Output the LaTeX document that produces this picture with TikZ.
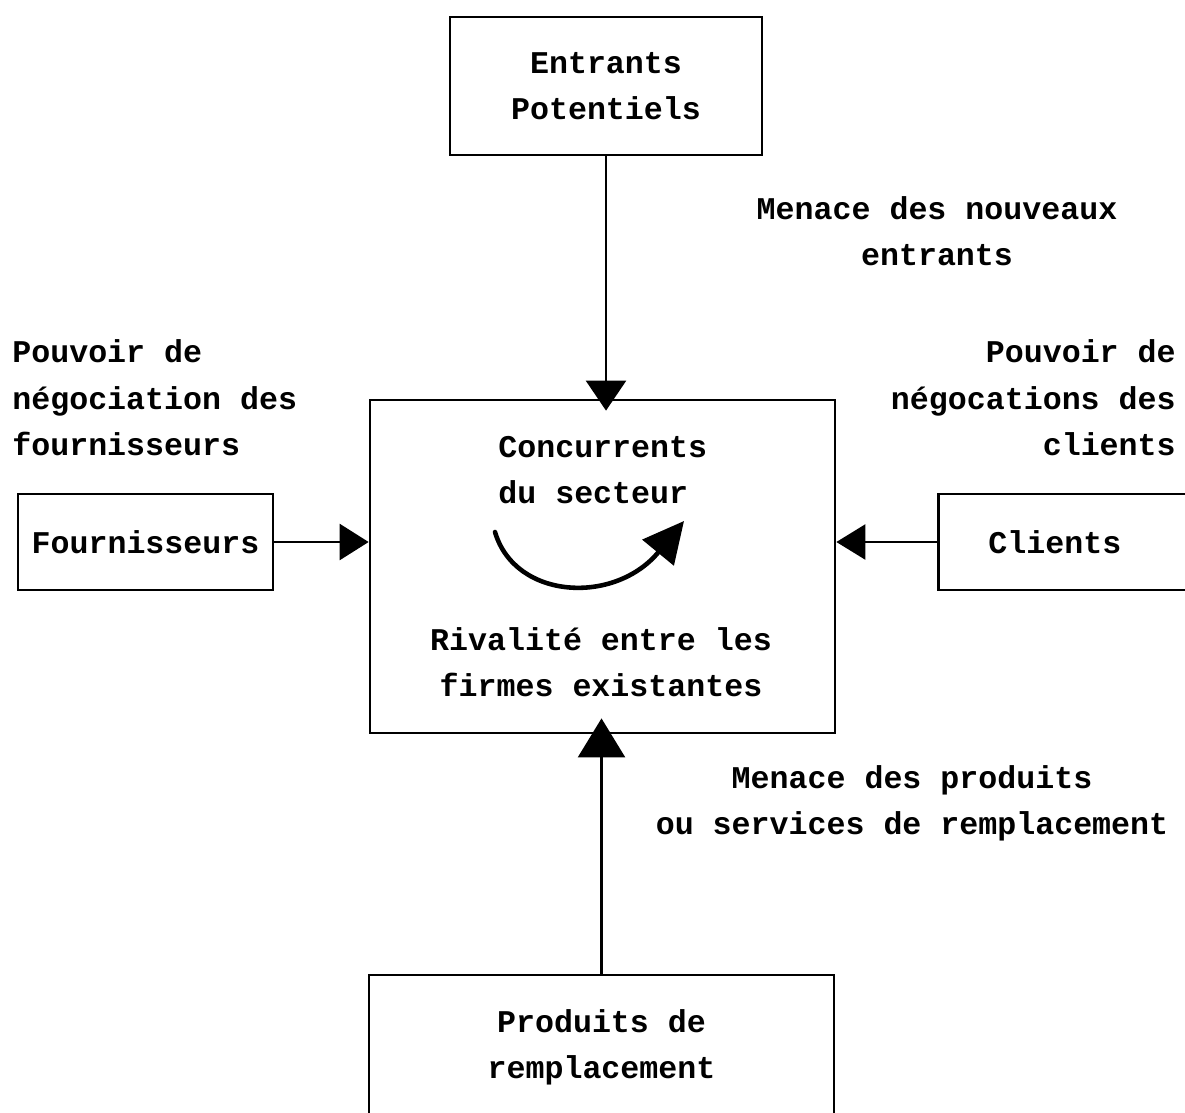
\documentclass[tikz,border=0pt]{standalone}
\usepackage{fontspec}
\setmonofont{Liberation Mono}
\usetikzlibrary{arrows.meta}

\tikzset{
  testo/.style={font=\ttfamily\bfseries\fontsize{18}{26.4}\selectfont, inner sep=0pt},
  scatola/.style={draw, line width=1.6pt, inner sep=0pt, testo},
  freccia/.style={line width=1.4pt},
}

\begin{document}
\begin{tikzpicture}[x=0.02cm, y=-0.02cm]
        % Cornice (in pixel)
        \useasboundingbox (0,0) rectangle (1185,1112);
        \clip (0,0) rectangle (1185,1112);

        % Scatole
        \node[scatola, align=center, minimum width=6.24cm, minimum height=2.76cm] (ent) at (606,86) {Entrants\\Potentiels};
        \node[scatola, minimum width=9.3cm, minimum height=6.66cm] (conc) at (602.5,566.5) {};
        \node[scatola, minimum width=5.1cm, minimum height=1.92cm] (forn) at (145.5,542) {Fournisseurs};
        \node[scatola, anchor=west, inner xsep=1cm, text width=3.3cm, align=left, minimum height=1.92cm] (cli) at (937,542) {Clients};
        \node[scatola, align=center, minimum width=9.3cm, minimum height=2.88cm] (prod) at (601.5,1047) {Produits de\\remplacement};

        % Testi nella scatola centrale
        \node[testo, anchor=west, align=left] (concT) at (498,470) {Concurrents\\du secteur};
        \node[testo, align=center] (rival) at (601,662) {Rivalité entre les\\firmes existantes};

        % Forze
        \node[testo, align=center] (nuovi) at (937,231) {Menace des nouveaux\\entrants};
        \node[testo, anchor=west, align=left] (pforn) at (12,398) {Pouvoir de\\négociation des\\fournisseurs};
        \node[testo, anchor=east, align=right] (pcli) at (1176,398) {Pouvoir de\\négocations des\\clients};
        \node[testo, align=center] (sost) at (912,803) {Menace des produits\\ou services de remplacement};

        % Frecce
        \draw[freccia, -{Triangle[length=0.6cm, width=0.8cm]}, shorten >=-0.24cm] (ent.south) -- (ent.south |- conc.north);
        \draw[freccia, -{Triangle[length=0.78cm, width=0.94cm]}, shorten >=-0.32cm] (prod.north) -- (prod.north |- conc.south);
        \draw[freccia, -{Triangle[length=0.58cm, width=0.72cm]}] (forn.east) -- (forn.east -| conc.west);
        \draw[freccia, -{Triangle[length=0.58cm, width=0.7cm]}] (cli.west) -- (cli.west -| conc.east);

        % Rivalita'
        \coordinate (rA) at (495,532);
        \coordinate (rB) at (684,521);
        \draw[line width=2.6pt, line cap=round, -{Triangle[length=0.82cm, width=0.8cm]}] (rA) .. controls (515,600) and (615,605) .. (rB);

\end{tikzpicture}
\end{document}
